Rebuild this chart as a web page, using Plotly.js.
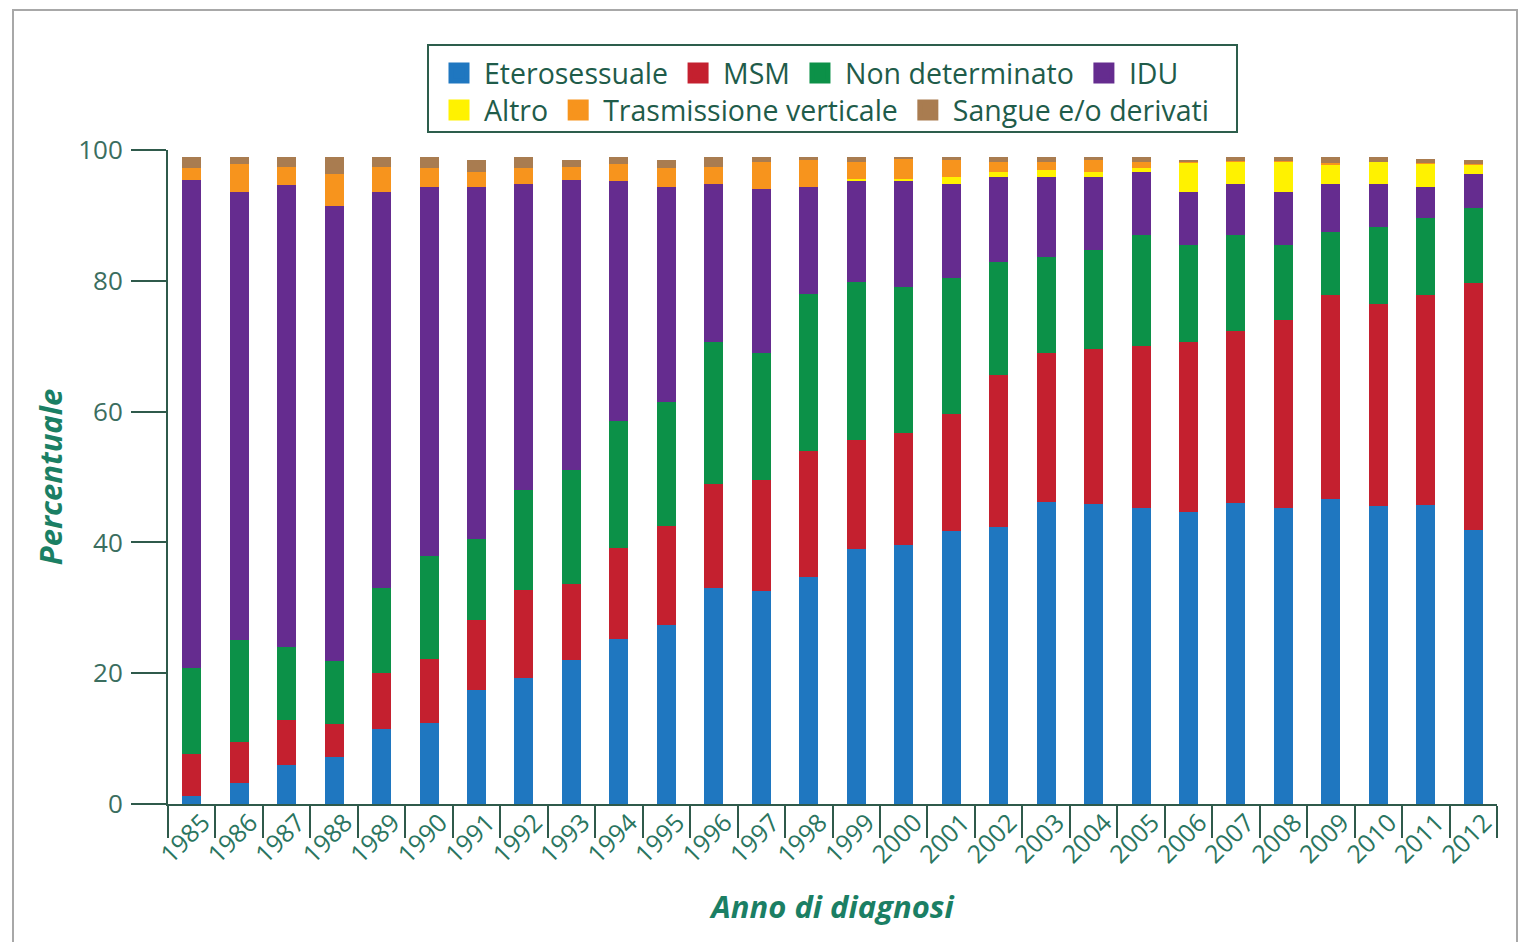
<!DOCTYPE html>
<html><head><meta charset="utf-8">
<script src="https://cdn.plot.ly/plotly-3.0.1.min.js"></script>
<style>html,body{margin:0;padding:0;background:#fff}#chart{width:1524px;height:942px}</style>
</head><body><div id="chart"></div>
<script>
const years = ['1985','1986','1987','1988','1989','1990','1991','1992','1993','1994','1995','1996','1997','1998','1999','2000','2001','2002','2003','2004','2005','2006','2007','2008','2009','2010','2011','2012'];
const eterosessuale = [1.3,3.2,5.9,7.2,11.4,12.4,17.4,19.3,22.0,25.2,27.4,33.0,32.5,34.7,39.0,39.6,41.8,42.3,46.2,45.9,45.3,44.7,46.0,45.2,46.7,45.5,45.7,41.9];
const msm = [6.3,6.3,6.9,5.1,8.6,9.8,10.7,13.4,11.6,14.0,15.1,15.9,17.0,19.2,16.6,17.2,17.8,23.3,22.8,23.6,24.7,26.0,26.4,28.8,31.2,30.9,32.2,37.7];
const nonDeterminato = [13.2,15.6,11.2,9.5,13.0,15.7,12.4,15.3,17.4,19.4,19.0,21.8,19.5,24.1,24.2,22.2,20.9,17.3,14.6,15.2,17.0,14.8,14.6,11.5,9.5,11.8,11.7,11.6];
const idu = [74.6,68.5,70.6,69.6,60.6,56.5,53.9,46.8,44.4,36.6,32.9,24.1,25.0,16.4,15.4,16.2,14.3,12.9,12.2,11.1,9.6,8.1,7.8,8.1,7.4,6.6,4.8,5.1];
const altro = [0,0,0,0,0,0,0,0,0,0,0,0,0,0,0.4,0.4,1.1,0.8,1.2,0.8,0.6,4.4,3.4,4.6,2.9,3.3,3.5,1.4];
const trasmissioneVerticale = [1.8,4.3,2.8,5.0,3.8,2.8,2.2,2.4,2.0,2.7,2.8,2.6,4.1,4.1,2.5,3.0,2.5,1.6,1.1,1.9,0.9,0.1,0.1,0.1,0.3,0.1,0.1,0.2];
const sangue = [1.7,1.0,1.5,2.5,1.5,1.7,1.8,1.7,1.1,1.0,1.3,1.5,0.8,0.4,0.8,0.3,0.5,0.7,0.8,0.5,0.8,0.4,0.6,0.6,0.9,0.7,0.7,0.6];

const seriesNames = ['Eterosessuale','MSM','Non determinato','IDU','Altro','Trasmissione verticale','Sangue e/o derivati'];
const seriesData = [eterosessuale, msm, nonDeterminato, idu, altro, trasmissioneVerticale, sangue];
const seriesColors = ['#1f77c0','#c4202f','#0c9148','#652c8f','#fff200','#f7941d','#a97c50'];
const seriesLegend = ['legend','legend','legend','legend','legend2','legend2','legend2'];

const FONT = 'Open Sans, sans-serif';
const barTraces = seriesNames.map((n, i) => ({
  type: 'bar', name: n, x: years, y: seriesData[i],
  marker: {color: seriesColors[i], line: {width: 0}},
  legendgroup: n, showlegend: false, hoverinfo: 'x+y+name'
}));
// legend entries (larger square swatches), linked to the bar series by legendgroup
const legendTraces = seriesNames.map((n, i) => ({
  type: 'scatter', mode: 'markers', name: n, x: [null], y: [null],
  marker: {symbol: 'square', size: 16, color: seriesColors[i], line: {width: 5, color: seriesColors[i]}},
  legendgroup: n, legend: seriesLegend[i], showlegend: true, hoverinfo: 'skip'
}));

const W = 1524, H = 942, L = 168, R = 27, T = 150, B = 138;
const pw = W - L - R, ph = H - T - B;
const px = x => (x - L) / pw;
const py = y => 1 - (y - T) / ph;

const legendCommon = {
  orientation: 'h', xanchor: 'left', yanchor: 'top',
  font: {family: FONT, size: 28.5, color: '#1f5c4a'},
  bgcolor: 'rgba(0,0,0,0)', borderwidth: 0, traceorder: 'normal',
  itemwidth: 40, itemclick: false, itemdoubleclick: false, tracegroupgap: 0
};

const layout = {
  width: W, height: H,
  margin: {l: L, r: R, t: T, b: B, pad: 0},
  paper_bgcolor: '#fff', plot_bgcolor: '#fff',
  font: {family: FONT, color: '#2a6e5a'},
  barmode: 'stack', bargap: 0.6,
  showlegend: true,
  legend: Object.assign({}, legendCommon, {x: px(434), y: py(48)}),
  legend2: Object.assign({}, legendCommon, {x: px(434), y: py(85)}),
  xaxis: {
    type: 'category', range: [-0.5, 27.5],
    tickson: 'boundaries', ticks: 'outside', ticklen: 32, tickwidth: 2, tickcolor: '#2f5a4b',
    showline: true, linecolor: '#2f5a4b', linewidth: 2, showgrid: false, zeroline: false,
    tickangle: -45, tickfont: {family: FONT, size: 25, color: '#2a7560'},
    ticklabelstandoff: -8, ticklabelshift: 11,
    title: {text: 'Anno di diagnosi', standoff: 28,
            font: {family: FONT, size: 31, color: '#1b7f64', weight: 'bold', style: 'italic'}},
    automargin: false
  },
  yaxis: {
    range: [0, 100], tickvals: [0, 20, 40, 60, 80, 100],
    ticks: 'outside', ticklen: 35, tickwidth: 2, tickcolor: '#2f5a4b',
    showline: true, linecolor: '#2f5a4b', linewidth: 2, showgrid: false, zeroline: false,
    tickfont: {family: FONT, size: 26, color: '#3b6e5f'}, ticklabelstandoff: 3,
    title: {text: 'Percentuale', standoff: 6,
            font: {family: FONT, size: 31, color: '#1b7f64', weight: 'bold', style: 'italic'}},
    automargin: false
  },
  shapes: [
    {type: 'rect', xref: 'paper', yref: 'paper', x0: px(13), x1: px(1517), y0: py(950), y1: py(10),
     line: {color: '#a8a8a8', width: 2}, fillcolor: 'rgba(0,0,0,0)', layer: 'below'},
    {type: 'rect', xref: 'paper', yref: 'paper', x0: px(428), x1: px(1237), y0: py(132), y1: py(45),
     line: {color: '#2d5e4c', width: 2}, fillcolor: 'rgba(0,0,0,0)', layer: 'below'}
  ]
};

Plotly.newPlot('chart', barTraces.concat(legendTraces), layout, {staticPlot: true, displayModeBar: false});
</script>
</body></html>
